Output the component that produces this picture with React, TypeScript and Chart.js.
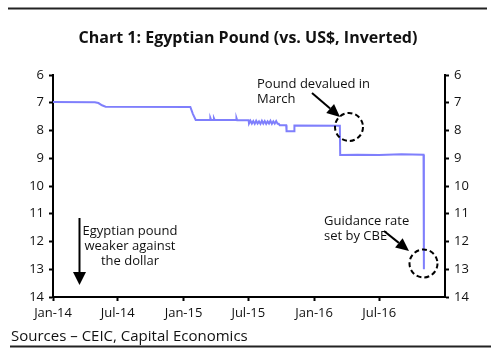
import React, { useEffect, useRef } from "react";
import { Chart, registerables } from "chart.js";

Chart.register(...registerables);

// EGP per US$ (axis inverted)
const dates: string[] = [
  "2014-01-01", "2014-04-28", "2014-05-08", "2014-05-18", "2014-05-28",
  "2015-01-20", "2015-01-27", "2015-02-04",
  "2015-03-16", "2015-03-17", "2015-03-19", "2015-03-26", "2015-03-27", "2015-03-29",
  "2015-05-28", "2015-05-29", "2015-05-31", "2015-07-02",
  "2015-07-03", "2015-07-07", "2015-07-11", "2015-07-15", "2015-07-19", "2015-07-23",
  "2015-07-27", "2015-07-31", "2015-08-04", "2015-08-08", "2015-08-12", "2015-08-16",
  "2015-08-20", "2015-08-24", "2015-08-28", "2015-09-01", "2015-09-05", "2015-09-09",
  "2015-09-13", "2015-09-17", "2015-09-21", "2015-09-24",
  "2015-09-27", "2015-10-15", "2015-10-16", "2015-11-06", "2015-11-07",
  "2016-03-13", "2016-03-14", "2016-05-01", "2016-07-01", "2016-09-01",
  "2016-11-02", "2016-11-03",
];
const rates: number[] = [
  6.97, 6.98, 7.01, 7.09, 7.14,
  7.15, 7.4, 7.62,
  7.62, 7.55, 7.62, 7.62, 7.56, 7.62,
  7.62, 7.55, 7.63, 7.63,
  7.75, 7.65, 7.75, 7.66, 7.76, 7.65, 7.75, 7.67, 7.76, 7.65,
  7.75, 7.66, 7.76, 7.67, 7.75, 7.65, 7.76, 7.67, 7.75, 7.66, 7.76, 7.76,
  7.81, 7.81, 8.03, 8.03, 7.82,
  7.83, 8.88, 8.87, 8.88, 8.86,
  8.87, 13.0,
];

const xTickDates: string[] = ["2014-01-01", "2014-07-01", "2015-01-01", "2015-07-01", "2016-01-01", "2016-07-01"];
const xTickLabels: string[] = ["Jan-14", "Jul-14", "Jan-15", "Jul-15", "Jan-16", "Jul-16"];
const xStart = "2014-01-01";
const xEnd = "2017-01-01";
const yMin = 6;
const yMax = 14;

const TITLE = "Chart 1: Egyptian Pound (vs. US$, Inverted)";
const SOURCE = "Sources \u2013 CEIC, Capital Economics";
const NOTE_MARCH = ["Pound devalued in", "March"];
const NOTE_CBE = ["Guidance rate", "set by CBE"];
const NOTE_WEAK = ["Egyptian pound", "weaker against", "the dollar"];

const FONT = "'Open Sans', 'DejaVu Sans', sans-serif";

const dayOf = (s: string) => (Date.parse(s + "T00:00:00Z") - Date.parse(xStart + "T00:00:00Z")) / 86400000;

function arrow(ctx: CanvasRenderingContext2D, x1: number, y1: number, x2: number, y2: number, head: number, half: number) {
  const a = Math.atan2(y2 - y1, x2 - x1);
  const bx = x2 - head * Math.cos(a);
  const by = y2 - head * Math.sin(a);
  ctx.beginPath();
  ctx.moveTo(x1, y1);
  ctx.lineTo(bx, by);
  ctx.stroke();
  ctx.beginPath();
  ctx.moveTo(x2, y2);
  ctx.lineTo(bx + half * Math.sin(a), by - half * Math.cos(a));
  ctx.lineTo(bx - half * Math.sin(a), by + half * Math.cos(a));
  ctx.closePath();
  ctx.fill();
}

const decor = {
  id: "decor",
  afterDraw(chart: any) {
    const ctx: CanvasRenderingContext2D = chart.ctx;
    ctx.save();
    ctx.strokeStyle = "#222";
    ctx.fillStyle = "#111";
    // rules
    ctx.lineWidth = 2;
    ctx.beginPath();
    ctx.moveTo(8, 8.5);
    ctx.lineTo(487, 8.5);
    ctx.stroke();
    ctx.beginPath();
    ctx.moveTo(10, 346.5);
    ctx.lineTo(491, 346.5);
    ctx.stroke();
    // title
    ctx.font = `bold 16px ${FONT}`;
    ctx.textAlign = "center";
    ctx.textBaseline = "middle";
    ctx.fillText(TITLE, 248, 38);
    // source
    ctx.font = `15px ${FONT}`;
    ctx.textAlign = "left";
    ctx.fillText(SOURCE, 11, 337);
    // notes
    ctx.font = `13px ${FONT}`;
    NOTE_MARCH.forEach((t, i) => ctx.fillText(t, 257, 84 + i * 15));
    NOTE_CBE.forEach((t, i) => ctx.fillText(t, 324, 221 + i * 15));
    ctx.textAlign = "center";
    NOTE_WEAK.forEach((t, i) => ctx.fillText(t, 130, 231 + i * 15));
    // arrows
    ctx.lineWidth = 2;
    ctx.strokeStyle = "#000";
    ctx.fillStyle = "#000";
    arrow(ctx, 312, 93, 340, 117, 13, 6);
    arrow(ctx, 384, 231, 409, 251, 13, 6);
    arrow(ctx, 79.5, 218, 79.5, 285, 13, 6.5);
    // dashed circles
    ctx.setLineDash([5, 3]);
    ctx.lineWidth = 2;
    ctx.beginPath();
    ctx.arc(349, 127, 14, 0, Math.PI * 2);
    ctx.stroke();
    ctx.beginPath();
    ctx.arc(423.5, 263.5, 14, 0, Math.PI * 2);
    ctx.stroke();
    ctx.restore();
  },
};

export default function App() {
  const ref = useRef<HTMLCanvasElement | null>(null);
  useEffect(() => {
    if (!ref.current) return;
    const points = dates.map((d, i) => ({ x: dayOf(d), y: rates[i] }));
    const tickVals = xTickDates.map(dayOf);
    const yCommon = {
      type: "linear" as const,
      reverse: true,
      min: yMin,
      max: yMax,
      ticks: { stepSize: 1, color: "#111", font: { family: FONT, size: 13 }, padding: 5 },
      grid: { display: true, drawOnChartArea: false, drawTicks: true, tickLength: 4, tickColor: "#000", tickWidth: 2 },
      border: { display: true, color: "#000", width: 2 },
    };
    const chart = new Chart(ref.current, {
      type: "line",
      data: {
        datasets: [
          {
            data: points,
            borderColor: "#7f7ffc",
            borderWidth: 2,
            pointRadius: 0,
            tension: 0,
            fill: false,
            yAxisID: "y",
          },
        ],
      },
      options: {
        responsive: false,
        animation: false,
        layout: { padding: { top: 75, left: 0, right: 0, bottom: 0 } },
        plugins: { legend: { display: false }, title: { display: false }, tooltip: { enabled: false } },
        scales: {
          x: {
            type: "linear",
            min: dayOf(xStart),
            max: dayOf(xEnd),
            afterBuildTicks: (s: any) => {
              s.ticks = tickVals.map((v) => ({ value: v }));
            },
            afterFit: (s: any) => {
              s.height = 57;
            },
            ticks: {
              color: "#111",
              font: { family: FONT, size: 13 },
              padding: 4,
              maxRotation: 0,
              autoSkip: false,
              callback: (v: any) => {
                const i = tickVals.indexOf(Number(v));
                return i >= 0 ? xTickLabels[i] : "";
              },
            },
            grid: { display: true, drawOnChartArea: false, drawTicks: true, tickLength: 4, tickColor: "#000", tickWidth: 2 },
            border: { display: true, color: "#000", width: 2 },
          },
          y: { ...yCommon, position: "left", afterFit: (s: any) => { s.width = 53; } },
          y2: { ...yCommon, position: "right", afterFit: (s: any) => { s.width = 55; } },
        },
      } as any,
      plugins: [decor],
    });
    return () => chart.destroy();
  }, []);
  return (
    <div style={{ position: "absolute", left: 0, top: 0, width: 500, height: 354, background: "#fff" }}>
      <canvas ref={ref} width={500} height={354} />
    </div>
  );
}
